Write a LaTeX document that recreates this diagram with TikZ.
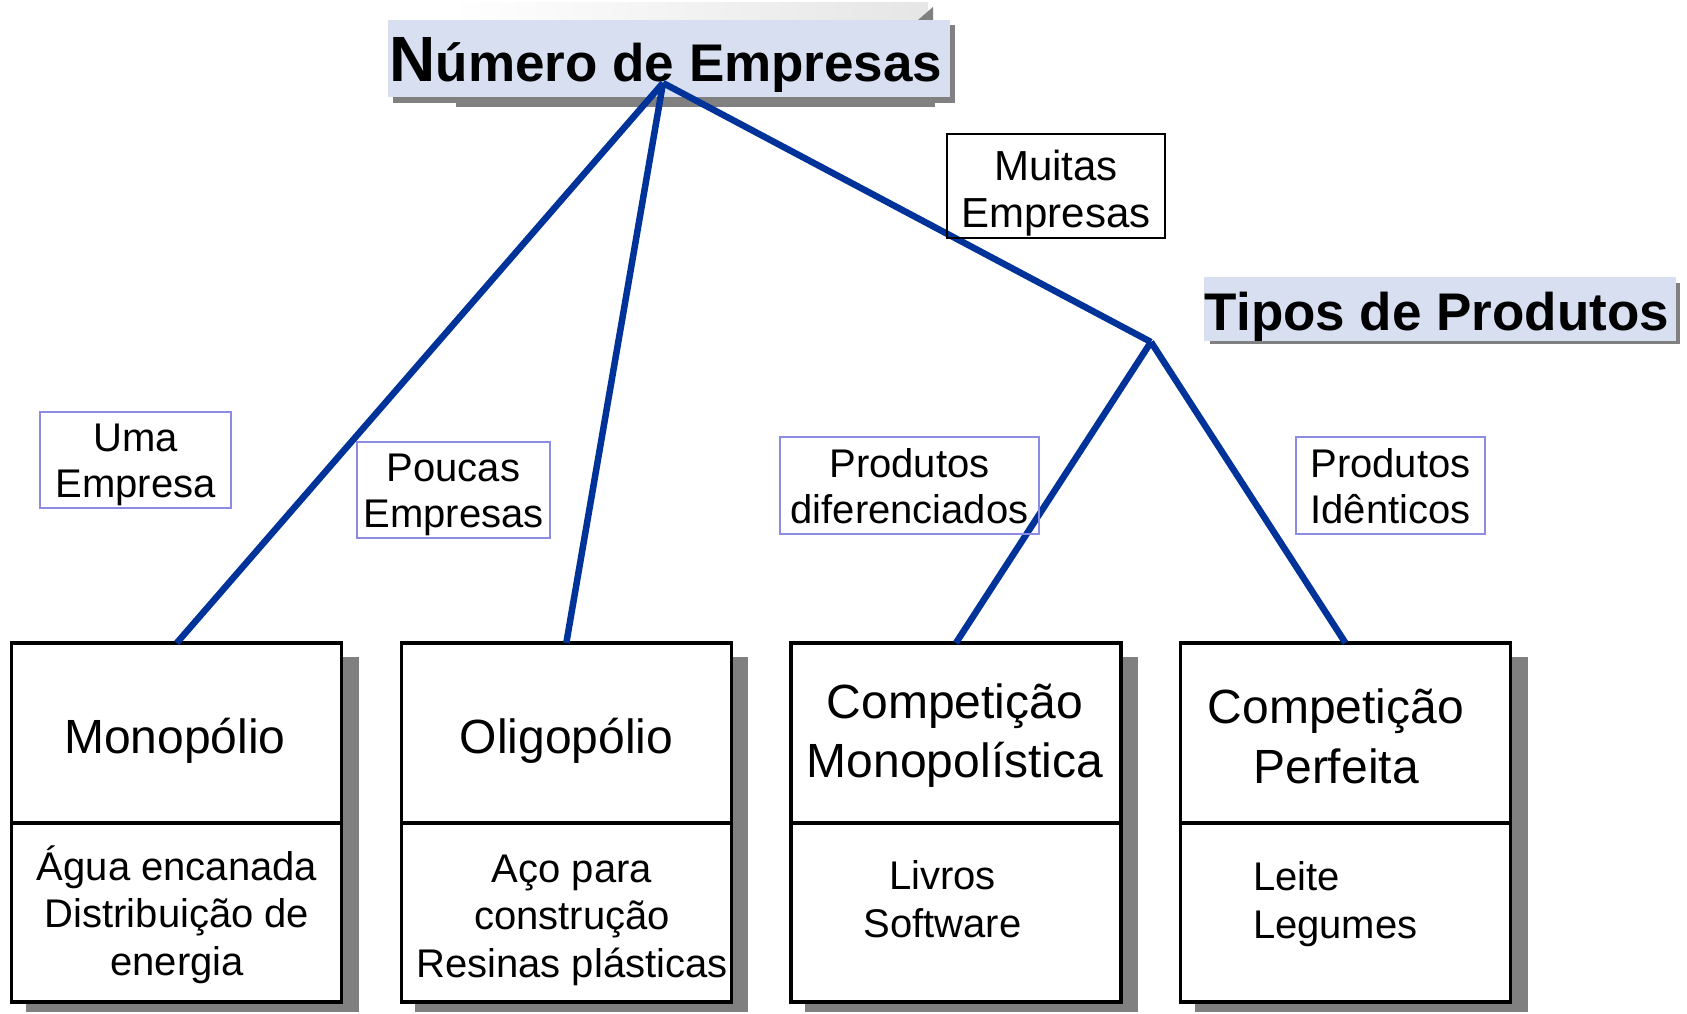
\documentclass[tikz,border=0pt]{standalone}
\usepackage{fontspec}
\setmainfont{Liberation Sans}
\definecolor{lineblue}{RGB}{0,51,153}
\definecolor{titlefill}{RGB}{216,223,241}
\definecolor{lav}{RGB}{140,140,228}
\definecolor{shadowgray}{RGB}{128,128,128}
\begin{document}
\begin{tikzpicture}[x=1pt,y=-1pt,
  mainbox/.style={draw=black, line width=3.4pt, fill=white, rectangle, minimum width=330pt, minimum height=359pt, anchor=north west, inner sep=0pt, outer sep=0pt},
  boxshadow/.style={fill=shadowgray, draw=none},
  headbox/.style={fill=titlefill, draw=none, rectangle, anchor=north west, inner sep=0pt, outer sep=0pt},
  labelbox/.style={draw=lav, line width=1.6pt, rectangle, anchor=north west, inner sep=0pt, outer sep=0pt},
  blackbox/.style={draw=black, line width=1.6pt, rectangle, anchor=north west, inner sep=0pt, outer sep=0pt},
  txt/.style={anchor=base, inner sep=0pt, outer sep=0pt, align=center},
  bigtxt/.style={txt, font=\fontsize{48}{59}\selectfont},
  smalltxt/.style={txt, font=\fontsize{40}{46}\selectfont},
  listtxt/.style={txt, font=\fontsize{40}{47.5}\selectfont},
  branch/.style={draw=lineblue, line width=6.5pt},
  divider/.style={draw=black, line width=3.4pt}
]
\useasboundingbox (0,0) rectangle (1687,1014);

% faint strip behind the title
\shade[left color=white, right color=black!10] (451,3) rectangle (928,20);
\fill[shadowgray] (918,20) -- (933,20) -- (933,7) -- cycle;

% title
\fill[shadowgray] (393,25) rectangle (955,103);
\fill[shadowgray] (456,97) rectangle (935,107);
\node[headbox, minimum width=562pt, minimum height=77pt] (titlebox) at (388,20) {};
\node[txt, font=\bfseries] (titletext) at (666,82) {{\fontsize{64}{64}\selectfont N}{\fontsize{53}{53}\selectfont úmero de Empresas}};

% Tipos de Produtos
\fill[shadowgray] (1210,283) rectangle (1680,344);
\node[headbox, minimum width=472pt, minimum height=64pt] (tiposbox) at (1204,277) {};
\node[txt, font=\bfseries\fontsize{53}{53}\selectfont] (tipostext) at (1437,330) {Tipos de Produtos};

% main boxes shadows
\foreach \x in {11.7,401.3,790.9,1180.5}
  \fill[boxshadow] (\x+14,657) rectangle (\x+347,1012);

% main boxes
\node[mainbox] (mono) at (11.7,643) {};
\node[mainbox] (oligo) at (401.3,643) {};
\node[mainbox] (compmono) at (790.9,643) {};
\node[mainbox] (compperf) at (1180.5,643) {};
\coordinate (divy) at (0,823);
\foreach \b in {mono,oligo,compmono,compperf}
  \draw[divider] (\b.west |- divy) -- (\b.east |- divy);

% connectors
\coordinate (apex) at (663,83);
\coordinate (junc) at (1151,342);
\draw[branch] (apex) -- (mono.north);
\draw[branch] (apex) -- (oligo.north);
\draw[branch] (apex) -- (junc);
\draw[branch] (junc) -- (compmono.north);
\draw[branch] (junc) -- (compperf.north);

% label boxes
\node[labelbox, minimum width=191pt, minimum height=96pt] (umabox) at (40,412) {};
\node[smalltxt] (umatext) at (135.5,497) {Uma\\Empresa};
\node[labelbox, minimum width=193pt, minimum height=96pt] (poucasbox) at (357,442) {};
\node[smalltxt] (poucastext) at (453.5,527) {Poucas\\Empresas};
\node[blackbox, minimum width=218pt, minimum height=104pt] (muitasbox) at (947,134) {};
\node[txt, font=\fontsize{42}{47}\selectfont] (muitastext) at (1056,227) {Muitas\\Empresas};
\node[labelbox, minimum width=259pt, minimum height=97pt] (difbox) at (780,437) {};
\node[smalltxt] (diftext) at (909.5,523) {Produtos\\diferenciados};
\node[labelbox, minimum width=189pt, minimum height=97pt] (idbox) at (1296,437) {};
\node[smalltxt] (idtext) at (1390.5,523) {Produtos\\Idênticos};

% box texts
\node[bigtxt] (monotitle) at (175,753) {Monopólio};
\node[listtxt] (monolist) at (177,975) {Água encanada\\Distribuição de\\energia};
\node[bigtxt] (oligotitle) at (566.5,753) {Oligopólio};
\node[listtxt] (oligolist) at (572,977) {Aço para\\construção\\Resinas plásticas};
\node[bigtxt] (compmonotitle) at (955,777) {Competição\\Monopolística};
\node[listtxt] (compmonolist) at (942.5,937) {Livros\\Software};
\node[txt, font=\fontsize{48}{60}\selectfont] (compperftitle) at (1336,783) {Competição\\Perfeita};
\node[listtxt, align=left, anchor=base west] (compperflist) at (1253,938) {Leite\\Legumes};
\end{tikzpicture}
\end{document}
